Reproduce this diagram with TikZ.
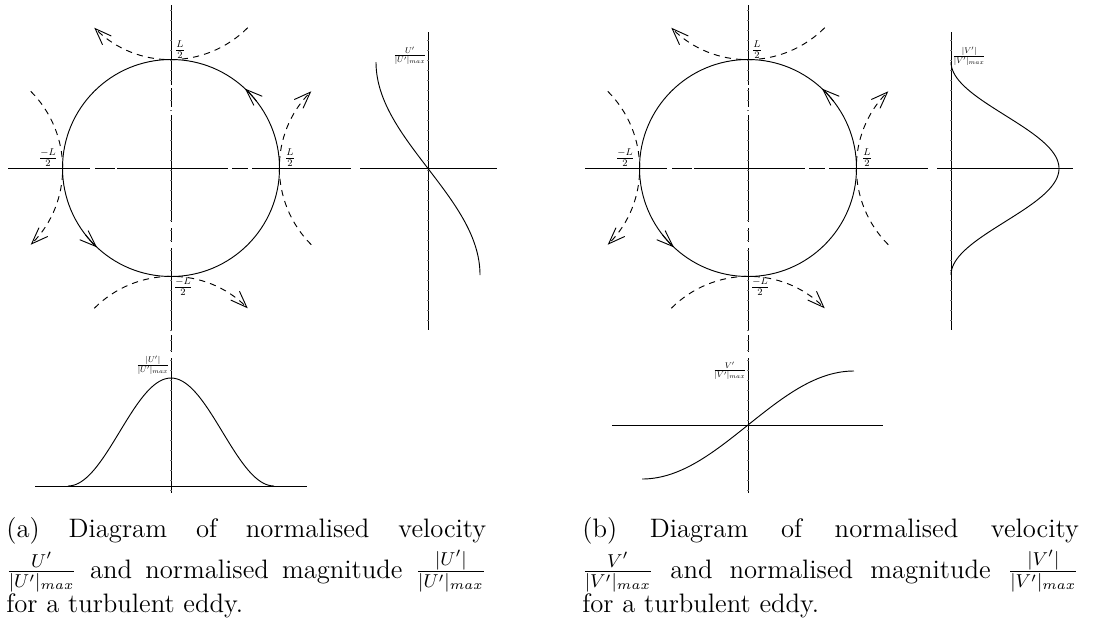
\RequirePackage{fix-cm}
\documentclass[tikz,border=0pt,12pt]{standalone}
\usepackage{tikz}
\usetikzlibrary{arrows.meta}

\newcommand{\eddylab}[1]{\scalebox{0.6}{$#1$}}
\newcommand{\plotlab}[1]{\scalebox{0.5}{$#1$}}

\begin{document}
\begin{tikzpicture}[
  x=0.4835pt, y=-0.4835pt,
  every node/.style={inner sep=0.6pt},
  axisline/.style={line width=0.4pt},
  tickmark/.style={line width=0.25pt, black!55},
  eddy/.style={line width=0.45pt},
  flow/.style={-{Straight Barb[length=8pt,width=6pt]}, line width=0.45pt},
  nbr/.style={flow, dash pattern=on 3pt off 2.5pt},
  profile/.style={line width=0.45pt},
  capt/.style={anchor=north west, inner sep=0pt, align=justify,
               font=\fontsize{12.9}{15.5}\selectfont}
]
\useasboundingbox (0,0) rectangle (1103,624);

%--------------------------------------------------
% both eddies: centre lines, circle, neighbours
%--------------------------------------------------
\foreach \ox in {0,577} {
\begin{scope}[shift={(\ox,0)}]
  % centre lines
  \foreach \a/\b in {5/85, 88/107, 115/222, 228/242, 248/330, 335/352, 358/493}
    \draw[axisline] (171,\a) -- (171,\b);
  \foreach \a/\b in {8/90, 95/115, 117/228, 232/248, 252/351}
    \draw[axisline] (\a,168) -- (\b,168);
  \foreach \y in {10,20,...,490}
    \draw[tickmark] (170,\y) -- (172,\y);

  % eddy
  \draw[eddy] (171,168) circle[radius=108.5];
  \draw[flow] (171,168) ++(-38:108.5) arc[start angle=-38, end angle=-47, radius=108.5];
  \draw[flow] (171,168) ++(142:108.5) arc[start angle=142, end angle=133, radius=108.5];

  % neighbouring eddies
  \draw[nbr] (171,-49) ++(45:108.5) arc[start angle=45, end angle=135, radius=108.5];
  \draw[nbr] (171,385) ++(225:108.5) arc[start angle=225, end angle=315, radius=108.5];
  \draw[nbr] (-46,168) ++(-45:108.5) arc[start angle=-45, end angle=45, radius=108.5];
  \draw[nbr] (388,168) ++(135:108.5) arc[start angle=135, end angle=225, radius=108.5];

  % eddy size labels
  \node (top\ox) at (180,50) {\eddylab{\frac{L}{2}}};
  \node (rgt\ox) at (290,158) {\eddylab{\frac{L}{2}}};
  \node (lft\ox) at (48,158) {\eddylab{\frac{-L}{2}}};
  \node (bot\ox) at (183,287) {\eddylab{\frac{-L}{2}}};
\end{scope}
}

%--------------------------------------------------
% (a) profiles of U'
%--------------------------------------------------
\draw[axisline] (428,32) -- (428,330);
\draw[axisline] (360,168) -- (497,168);
\foreach \y in {40,50,...,320}
  \draw[tickmark] (427,\y) -- (429,\y);
\draw[profile] plot[domain=-1:1, samples=80, smooth]
  ({428-52*sin(90*\x)}, {168.5-106.5*\x});
\node[anchor=east] (ua) at (428,56) {\plotlab{\frac{U'}{|U'|_{max}}}};

\draw[axisline] (35,486) -- (307,486);
\draw[profile] plot[domain=-1:1, samples=80, smooth]
  ({171+103*\x}, {486-54*(1+cos(180*\x))});
\node[anchor=east] (um) at (171,365) {\plotlab{\frac{|U'|}{|U'|_{max}}}};

%--------------------------------------------------
% (b) profiles of V'
%--------------------------------------------------
\draw[axisline] (951,32) -- (951,330);
\draw[axisline] (937,168) -- (1073,168);
\foreach \y in {40,50,...,320}
  \draw[tickmark] (950,\y) -- (952,\y);
\draw[profile] plot[domain=-1:1, samples=80, smooth]
  ({951+54*(1+cos(180*\x))}, {168.5-106.5*\x});
\node[anchor=west] (vm) at (951,56) {\plotlab{\frac{|V'|}{|V'|_{max}}}};

\draw[axisline] (612,425) -- (883,425);
\draw[profile] plot[domain=-1:1, samples=80, smooth]
  ({748+106*\x}, {425-54*sin(90*\x)});
\node[anchor=east] (va) at (748,371) {\plotlab{\frac{V'}{|V'|_{max}}}};

%--------------------------------------------------
% captions
%--------------------------------------------------
\node[capt, text width=232pt] (capa) at (6,517) {(a) Diagram of normalised velocity\linebreak
\rule{0pt}{15.5pt}$\frac{U'}{|U'|_{max}}$ and normalised magnitude $\frac{|U'|}{|U'|_{max}}$\linebreak
for a turbulent eddy.};
\node[capt, text width=240pt] (capb) at (582,517) {(b) Diagram of normalised velocity\linebreak
\rule{0pt}{15.5pt}$\frac{V'}{|V'|_{max}}$ and normalised magnitude $\frac{|V'|}{|V'|_{max}}$\linebreak
for a turbulent eddy.};

\end{tikzpicture}
\end{document}
